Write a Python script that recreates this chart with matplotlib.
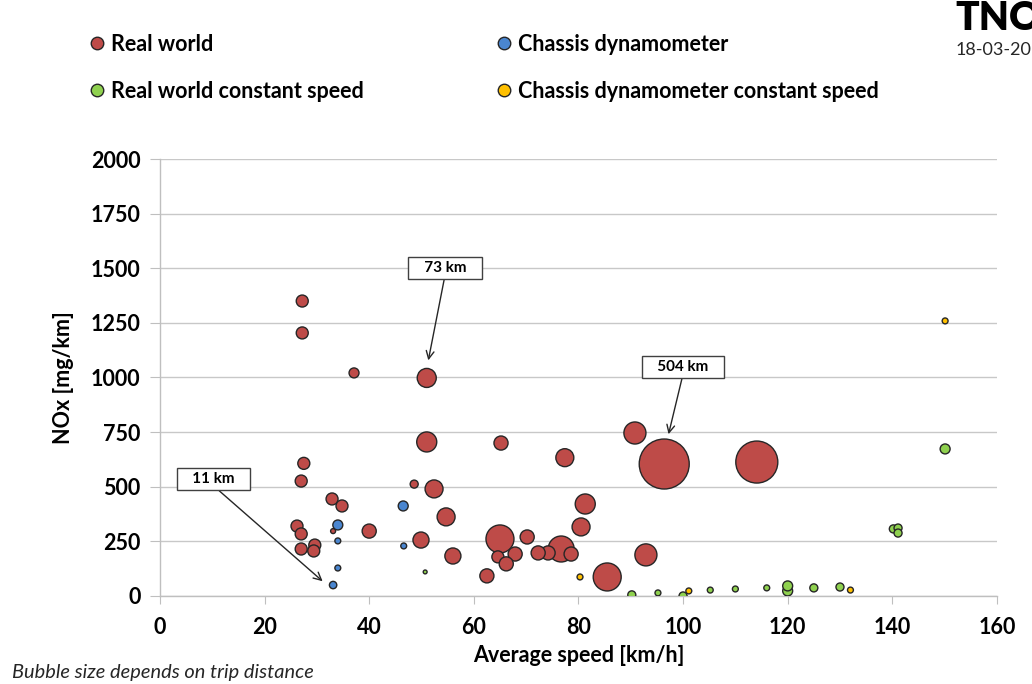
import matplotlib
matplotlib.use("Agg")
import matplotlib.pyplot as plt
from matplotlib.lines import Line2D

plt.rcParams['font.family'] = ['Lato', 'DejaVu Sans']

# ---- data: (average speed km/h, NOx mg/km, trip distance km) ----
rw_speed = [27.2, 27.2, 37.1, 51.0, 51.0, 65.2, 90.8, 77.4, 96.4, 114.1,
            27.5, 27.0, 48.6, 52.4, 32.9, 34.8, 81.3, 54.7, 80.5, 26.2,
            27.0, 40.0, 49.9, 65.0, 70.2, 92.9, 76.7, 74.2, 72.3, 78.6,
            67.9, 64.6, 66.2, 56.0, 27.0, 29.6, 29.4, 62.5, 85.5, 33.1]
rw_nox = [1350, 1204, 1021, 998, 705, 700, 746, 633, 604, 613,
          607, 526, 512, 490, 444, 412, 421, 362, 316, 320,
          284, 297, 256, 261, 270, 188, 215, 197, 197, 192,
          192, 179, 147, 183, 215, 233, 206, 92, 87, 297]
rw_dist = [29, 29, 20, 73, 81, 40, 98, 65, 504, 356,
           29, 29, 13, 65, 29, 29, 81, 65, 65, 29,
           29, 40, 52, 158, 40, 98, 136, 40, 40, 40,
           40, 29, 40, 52, 29, 29, 29, 40, 158, 5]

cd_speed = [34.0, 34.0, 34.0, 33.1, 46.5, 46.6]
cd_nox = [325, 252, 128, 50, 412, 229]
cd_dist = [20, 7, 7, 11, 20, 7]

rwc_speed = [50.7, 90.2, 95.2, 100.0, 105.2, 110.0, 116.0, 120.0, 120.0,
             125.0, 130.0, 140.2, 141.1, 141.1, 150.1]
rwc_nox = [110, 5, 14, 0, 27, 32, 37, 23, 46, 37, 41, 307, 311, 288, 673]
rwc_dist = [3, 13, 7, 13, 7, 7, 7, 20, 20, 13, 13, 13, 13, 13, 20]

cdc_speed = [80.3, 101.1, 132.0, 150.1]
cdc_nox = [87, 23, 27, 1259]
cdc_dist = [7, 7, 7, 7]

series_labels = ['Real world', 'Chassis dynamometer',
                 'Real world constant speed', 'Chassis dynamometer constant speed']
colors = ['#BE4B48', '#4A86D0', '#8FD14F', '#FFC000']

x_ticks = [0, 20, 40, 60, 80, 100, 120, 140, 160]
y_ticks = [0, 250, 500, 750, 1000, 1250, 1500, 1750, 2000]

# annotations: label, bubble (x, y), box centre (x, y)
ann_labels = ['73 km', '504 km', '11 km']
ann_tip = [(51.2, 1066), (97.1, 728), (31.5, 59)]
ann_box = [(54.5, 1501), (100.0, 1048), (10.3, 535)]

SCALE = 2.57  # marker area (pt^2) per km of trip distance

fig = plt.figure(figsize=(10.32, 6.84), dpi=100)
ax = fig.add_axes([0.155, 0.1287, 0.811, 0.6388])

all_series = [(rw_speed, rw_nox, rw_dist), (cd_speed, cd_nox, cd_dist),
              (rwc_speed, rwc_nox, rwc_dist), (cdc_speed, cdc_nox, cdc_dist)]
for (xs, ys, ds), c in zip(all_series, colors):
    ax.scatter(xs, ys, s=[d * SCALE for d in ds], c=c, edgecolors='#262626',
               linewidths=1.0, zorder=3)

ax.set_xlim(0, 160)
ax.set_ylim(0, 2000)
ax.set_xticks(x_ticks)
ax.set_yticks(y_ticks)
ax.set_xticklabels([str(v) for v in x_ticks], fontsize=15.5, fontweight='bold')
ax.set_yticklabels([str(v) for v in y_ticks], fontsize=15.5, fontweight='bold')
ax.tick_params(axis='x', length=6, color='#BFBFBF', pad=9)
ax.tick_params(axis='y', length=7, color='#BFBFBF', pad=7)
ax.grid(axis='y', color='#C8C8C8', linewidth=1.0, zorder=0)
ax.set_axisbelow(True)
for side in ['top', 'right']:
    ax.spines[side].set_visible(False)
for side in ['left', 'bottom']:
    ax.spines[side].set_color('#BFBFBF')
    ax.spines[side].set_linewidth(1.0)

ax.set_xlabel('Average speed [km/h]', fontsize=15.5, fontweight='bold', labelpad=5)
ax.set_ylabel('NOx [mg/km]', fontsize=15.5, fontweight='bold', labelpad=12)

pad_sp = ' ' * 3
for lab, tip, box in zip(ann_labels, ann_tip, ann_box):
    ax.annotate(pad_sp + lab + pad_sp, xy=tip, xytext=box, ha='center', va='center',
                fontsize=11, fontweight='bold',
                bbox=dict(boxstyle='square,pad=0.28', fc='white', ec='#404040', lw=1.0),
                arrowprops=dict(arrowstyle='->', color='#262626', lw=1.0,
                                relpos=(0.5, 0.0), shrinkA=0, shrinkB=2,
                                mutation_scale=14),
                zorder=5)

# legend in two columns
handles = [Line2D([], [], marker='o', linestyle='none', markersize=9,
                  markerfacecolor=c, markeredgecolor='#262626', markeredgewidth=1.0)
           for c in colors]
leg_kw = dict(loc='upper left', frameon=False, prop=dict(size=15.5, weight='bold'),
              handletextpad=0.1, labelspacing=1.2, handlelength=1.1, borderaxespad=0)
fig.legend([handles[0], handles[2]], [series_labels[0], series_labels[2]],
           bbox_to_anchor=(0.0741, 0.963), **leg_kw)
fig.legend([handles[1], handles[3]], [series_labels[1], series_labels[3]],
           bbox_to_anchor=(0.469, 0.963), **leg_kw)

fig.text(0.012, 0.0175, 'Bubble size depends on trip distance', fontsize=14.4,
         style='italic', color='#262626', ha='left', va='center')
fig.text(0.926, 0.946, 'TNO', fontsize=28, fontweight='heavy', ha='left',
         va='bottom', color='black')
fig.text(0.926, 0.927, '18-03-2016', fontsize=13, ha='left', va='center',
         color='#262626')

fig.savefig('out.png', dpi=100)
